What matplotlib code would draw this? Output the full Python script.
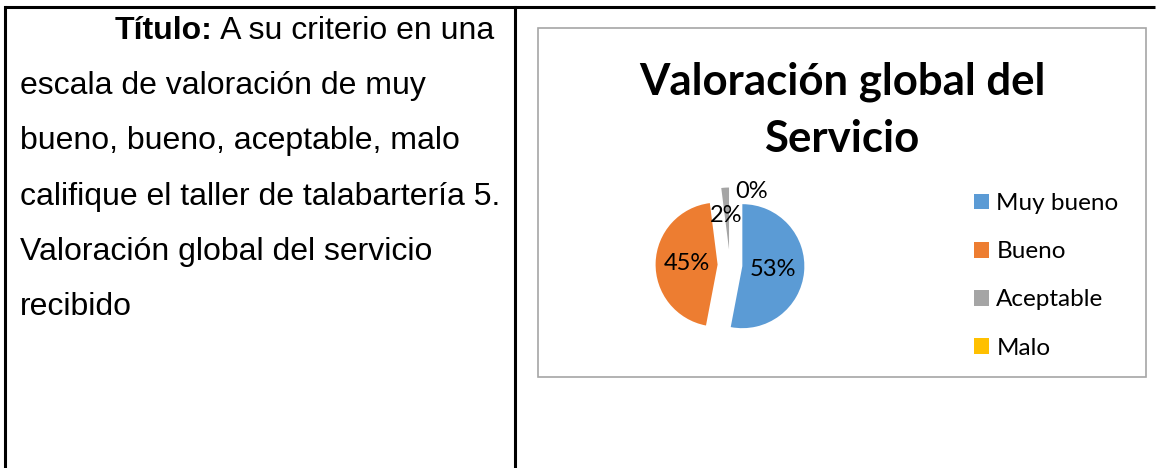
# Pie chart inside a two-column table

import matplotlib
matplotlib.use('Agg')
import matplotlib.pyplot as plt

# Data
categorias = ['Muy bueno', 'Bueno', 'Aceptable', 'Malo']
porcentajes = [53, 45, 2, 0]
colores = ['#5B9BD5', '#ED7D31', '#A5A5A5', '#FFC000']
separacion = [0.2, 0.2, 0.25, 0.25]

titulo_lineas = ['Valoración global del', 'Servicio']
texto_izq = ['A su criterio en una',
             'escala de valoración de muy',
             'bueno, bueno, aceptable, malo',
             'califique el taller de talabartería 5.',
             'Valoración global del servicio',
             'recibido']

W, H = 1159, 468
fig = plt.figure(figsize=(W / 100, H / 100), dpi=100)

# full-figure axes in pixel units for the table and the text
base = fig.add_axes([0, 0, 1, 1])
base.set_xlim(0, W)
base.set_ylim(H, 0)
base.axis('off')

# table borders
base.plot([5, 1155], [7, 7], color='black', lw=2.2, solid_capstyle='butt')
base.plot([5, 5], [7, H], color='black', lw=2.2)
base.plot([515, 515], [7, H], color='black', lw=2.2)

# chart frame
base.add_patch(plt.Rectangle((538, 28), 608, 349, fill=False,
                             edgecolor='#A6A6A6', lw=1.2))

# left column text
fam_txt = 'Liberation Sans'
fs_txt = 23
renderer = fig.canvas.get_renderer()
t_bold = base.text(115, 39, 'Título:', fontsize=fs_txt, family=fam_txt,
                   fontweight='bold', va='baseline')
bb = t_bold.get_window_extent(renderer)
x_next = base.transData.inverted().transform((bb.x1, bb.y0))[0]
base.text(x_next, 39, ' ' + texto_izq[0], fontsize=fs_txt, family=fam_txt,
          va='baseline')
for i, linea in enumerate(texto_izq[1:]):
    base.text(20, 94 + i * 55.3, linea, fontsize=fs_txt, family=fam_txt,
              va='baseline')

# chart title
fam_graf = 'Lato'
for linea, yb in zip(titulo_lineas, [94, 152]):
    base.text(842, yb, linea, fontsize=31.5, family=fam_graf,
              fontweight='bold', ha='center', va='baseline')

# pie axes: 1 data unit = 62 px, centred at (730, 265)
cx, cy, r_px, half = 730, 265, 62, 150
ax = fig.add_axes([(cx - half) / W, (H - cy - half) / H, 2 * half / W, 2 * half / H])
wedges, textos, autotextos = ax.pie(porcentajes, colors=colores, explode=separacion,
                                    startangle=90, counterclock=False,
                                    autopct='%1.0f%%', pctdistance=0.5,
                                    textprops={'fontsize': 17, 'family': fam_graf})
lim = half / r_px
ax.set_xlim(-lim, lim)
ax.set_ylim(-lim, lim)
ax.set_aspect('equal')

# small slices: move their labels outside / above
x0, y0 = autotextos[3].get_position()
autotextos[3].set_position((x0 + 0.35, y0 + 0.43))
x2, y2 = autotextos[2].get_position()
autotextos[2].set_position((x2 - 0.02, y2 + 0.05))

# legend
ax.legend(wedges, categorias, loc='upper left',
          bbox_to_anchor=(974 / W, 1 - 193 / H), bbox_transform=fig.transFigure,
          frameon=False, prop={'family': fam_graf, 'size': 17.5},
          handlelength=0.62, handleheight=0.62, handletextpad=0.3,
          labelspacing=1.12, borderaxespad=0, borderpad=0)

fig.savefig('out.png', dpi=100)
